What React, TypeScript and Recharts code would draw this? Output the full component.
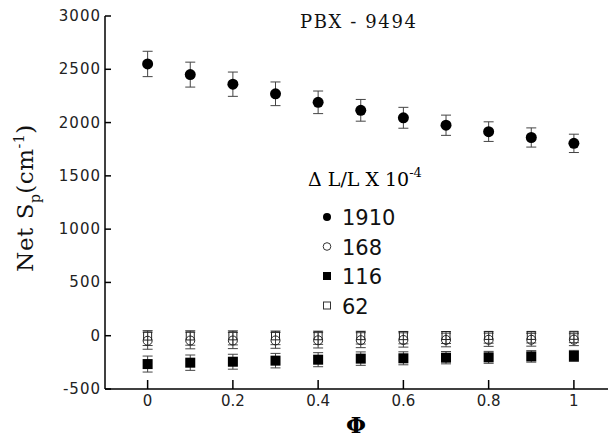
import React from 'react';
import { ScatterChart, Scatter, XAxis, YAxis, ErrorBar, Legend } from 'recharts';

const phi = [0, 0.1, 0.2, 0.3, 0.4, 0.5, 0.6, 0.7, 0.8, 0.9, 1];
const s1910 = [2550, 2450, 2360, 2270, 2190, 2115, 2045, 1975, 1915, 1860, 1805];
const e1910 = [119, 117, 114, 111, 106, 102, 98, 95, 92, 90, 86];
const s168 = [-47, -45, -45, -44, -43, -42, -40, -40, -38, -38, -37];
const e168 = [80, 78, 76, 74, 72, 70, 67, 64, 62, 60, 56];
const s116 = [-266, -253, -244, -234, -225, -215, -212, -206, -203, -194, -190];
const e116 = [75, 72, 70, 68, 66, 63, 61, 58, 56, 54, 52];
const s62 = [-22, -21, -20, -20, -19, -18, -18, -17, -16, -16, -15];
const e62 = [70, 68, 66, 64, 62, 60, 58, 56, 54, 52, 50];

const xTicks = [0, 0.2, 0.4, 0.6, 0.8, 1];
const yTicks = [-500, 0, 500, 1000, 1500, 2000, 2500, 3000];
const legendLabels = ['1910', '168', '116', '62'];

const mk = (vals: number[], errs: number[]) =>
  phi.map((x, i) => ({ x, y: vals[i], err: errs[i] }));

const d1910 = mk(s1910, e1910);
const d168 = mk(s168, e168);
const d116 = mk(s116, e116);
const d62 = mk(s62, e62);

const sans = 'DejaVu Sans';
const serif = 'DejaVu Serif';

const YTick = (p: any) => (
  <g>
    <line x1={p.x + 4} x2={p.x + 10} y1={p.y} y2={p.y} stroke="#000" strokeWidth={1.5} />
    <text x={p.x} y={p.y + 5} textAnchor="end" fontFamily={sans} fontSize={15}
      letterSpacing={1} fill="#222">
      {p.payload.value}
    </text>
  </g>
);

const XTick = (p: any) => (
  <g>
    <line x1={p.x} x2={p.x} y1={p.y} y2={p.y - 9} stroke="#000" strokeWidth={1.5} />
    <text x={p.x} y={p.y + 17} textAnchor="middle" fontFamily={sans} fontSize={15} fill="#222">
      {p.payload.value}
    </text>
  </g>
);

const dotFilled = (p: any) => <circle cx={p.cx} cy={p.cy} r={5.5} fill="#000" />;
const dotOpen = (p: any) => <circle cx={p.cx} cy={p.cy} r={4.5} fill="none" stroke="#222" strokeWidth={1} />;
const sqFilled = (p: any) => <rect x={p.cx - 5} y={p.cy - 5} width={10} height={10} fill="#000" />;
const sqOpen = (p: any) => <rect x={p.cx - 4} y={p.cy - 6} width={8} height={8} fill="none" stroke="#222" strokeWidth={1} />;

const LegendBox = () => (
  <svg width={160} height={160} style={{ overflow: 'visible' }}>
    <text x={8} y={26} fontFamily={serif} fontSize={19} fill="#000">
      Δ L/L X 10<tspan dy={-9} fontSize={13}>-4</tspan>
    </text>
    {legendLabels.map((lab, i) => {
      const cy = 57 + i * 29.5;
      return (
        <g key={lab}>
          {i === 0 && <circle cx={27} cy={cy} r={4} fill="#000" />}
          {i === 1 && <circle cx={27} cy={cy} r={3.8} fill="none" stroke="#333" />}
          {i === 2 && <rect x={23} y={cy - 4} width={8} height={8} fill="#000" />}
          {i === 3 && <rect x={23.5} y={cy - 3.5} width={7} height={7} fill="none" stroke="#333" />}
          <text x={42} y={cy + 8} fontFamily={sans} fontSize={21} fill="#111">{lab}</text>
        </g>
      );
    })}
  </svg>
);

export default function App() {
  return (
    <div style={{ position: 'absolute', left: 0, top: 0, width: 608, height: 438, background: '#fff' }}>
      <ScatterChart width={608} height={438} margin={{ top: 16, right: 0, bottom: 0, left: 45 }}>
        <XAxis
          type="number"
          dataKey="x"
          domain={[-0.1, 1.08]}
          ticks={xTicks}
          allowDataOverflow
          height={49}
          tickSize={0}
          tickMargin={0}
          tick={XTick}
          axisLine={{ stroke: '#000', strokeWidth: 1.5 }}
        />
        <YAxis
          type="number"
          dataKey="y"
          domain={[-500, 3000]}
          ticks={yTicks}
          width={60}
          tickSize={0}
          tickMargin={4}
          tick={YTick}
          axisLine={{ stroke: '#000', strokeWidth: 1.5 }}
        />
        <Legend
          verticalAlign="middle"
          layout="horizontal"
          content={LegendBox}
          wrapperStyle={{ position: 'absolute', left: 300, top: 160, width: 160, height: 160 }}
        />
        <Scatter name="1910" data={d1910} shape={dotFilled} isAnimationActive={false}>
          <ErrorBar dataKey="err" direction="y" width={5} stroke="#444" strokeWidth={1} isAnimationActive={false} />
        </Scatter>
        <Scatter name="62" data={d62} shape={sqOpen} isAnimationActive={false}>
          <ErrorBar dataKey="err" direction="y" width={5} stroke="#444" strokeWidth={1} isAnimationActive={false} />
        </Scatter>
        <Scatter name="168" data={d168} shape={dotOpen} isAnimationActive={false}>
          <ErrorBar dataKey="err" direction="y" width={5} stroke="#444" strokeWidth={1} isAnimationActive={false} />
        </Scatter>
        <Scatter name="116" data={d116} shape={sqFilled} isAnimationActive={false}>
          <ErrorBar dataKey="err" direction="y" width={5} stroke="#444" strokeWidth={1} isAnimationActive={false} />
        </Scatter>
      </ScatterChart>
      <svg width={608} height={438} style={{ position: 'absolute', left: 0, top: 0, pointerEvents: 'none' }}>
        <text x={300} y={28} fontFamily={serif} fontSize={18} letterSpacing={1.6} fill="#111">
          PBX - 9494
        </text>
        <text transform="translate(33,198) rotate(-90)" textAnchor="middle" fontFamily={serif} fontSize={23}
          letterSpacing={0.5} fill="#111">
          Net S<tspan dy={7} fontSize={14}>p</tspan>
          <tspan dy={-7}>(cm</tspan>
          <tspan dy={-9} fontSize={14}>-1</tspan>
          <tspan dy={9}>)</tspan>
        </text>
        <text x={356} y={433} textAnchor="middle" fontFamily={serif} fontWeight="bold" fontSize={23} fill="#000">
          Φ
        </text>
      </svg>
    </div>
  );
}
